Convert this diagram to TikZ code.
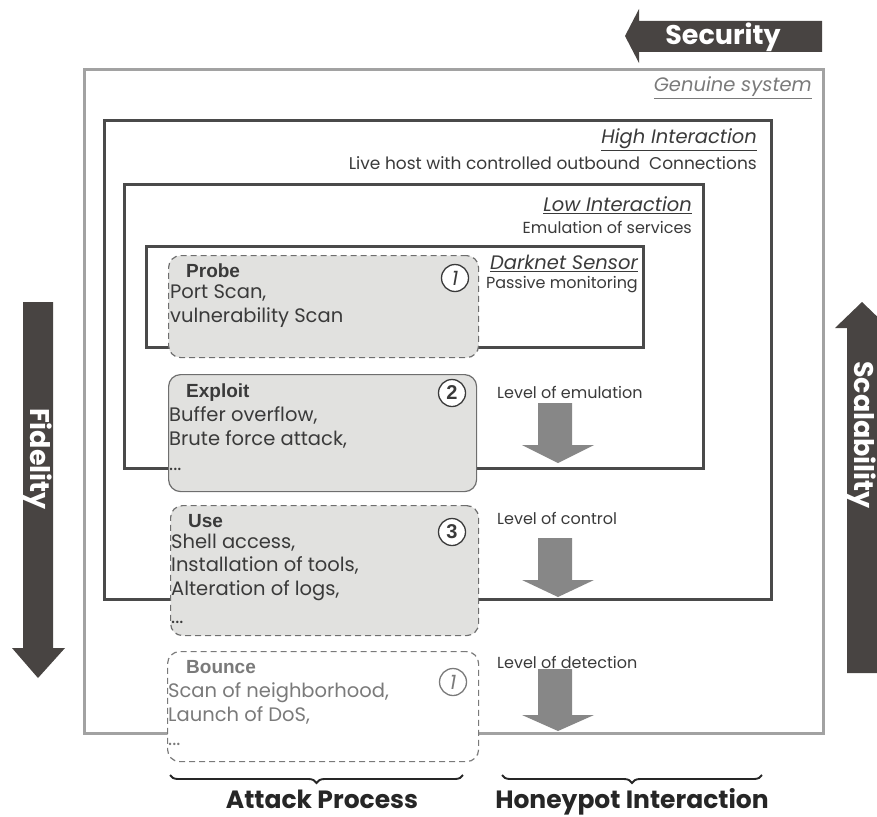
\documentclass[tikz,border=0pt]{standalone}
\usepackage{fontspec}
\setmainfont{Poppins}
\newfontfamily\lsans{Liberation Sans}
\usetikzlibrary{decorations.pathreplacing}
\definecolor{darkarrow}{HTML}{484442}
\definecolor{boxfill}{HTML}{E1E1DF}
\definecolor{midarrow}{HTML}{878787}
\definecolor{outergray}{HTML}{A2A2A2}
\definecolor{frame}{HTML}{4A4A4A}
\definecolor{txt}{HTML}{3A3A3A}
\definecolor{gtxt}{HTML}{7A7A7A}
\tikzset{
  levelbox/.style={draw=frame, line width=3pt, inner sep=0pt, anchor=north west},
  attackbox/.style={fill=boxfill, draw=frame!80, line width=1.2pt, rounded corners=12pt, inner sep=0pt, anchor=north west},
  dashbox/.style={attackbox, dash pattern=on 6pt off 4pt},
  title/.style={font=\lsans\bfseries\fontsize{19}{22}\selectfont, text=txt, anchor=base west, inner sep=0pt},
  body/.style={font=\fontsize{19.5}{23.6}\selectfont, text=txt, anchor=base west, align=left, inner sep=0pt},
  num/.style={circle, draw=txt, fill=white, line width=1.3pt, minimum size=27pt, inner sep=0pt, text=txt, font=\fontsize{20}{22}\selectfont},
  lvl/.style={font=\fontsize{16}{19}\selectfont, text=txt, anchor=west, inner sep=0pt},
  rtitle/.style={font=\itshape\fontsize{19.5}{22}\selectfont, text=txt, anchor=east, inner sep=0pt},
  rsub/.style={font=\fontsize{16}{19}\selectfont, text=txt, anchor=east, inner sep=0pt},
  bigtxt/.style={font=\bfseries\fontsize{27}{30}\selectfont, text=white, inner sep=0pt},
  grayarrow/.style={fill=midarrow},
  brace/.style={decorate, decoration={brace, amplitude=8pt, mirror}, line width=1.9pt, draw=black!85},
  bottomtxt/.style={font=\bfseries\fontsize{25}{28}\selectfont, text=black!85, inner sep=0pt, anchor=base}
}
\begin{document}
\begin{tikzpicture}[x=1pt,y=-1pt]
\useasboundingbox (0,0) rectangle (877,816);

% Security arrow
\fill[darkarrow] (822,21) -- (639,21) -- (639,9) -- (625,36) -- (639,63) -- (639,52) -- (822,52) -- cycle;
\node[bigtxt] (sec) at (723,37) {Security};

% Fidelity arrow
\fill[darkarrow] (23,302) -- (53,302) -- (53,648) -- (65,648) -- (38,678) -- (12,648) -- (23,648) -- cycle;
\node[bigtxt, rotate=-90] (fid) at (38,459) {Fidelity};

% Scalability arrow
\fill[darkarrow] (847,673) -- (847,328) -- (835,328) -- (862,302) -- (889,328) -- (877,328) -- (877,673) -- cycle;
\node[bigtxt, rotate=-90] (sca) at (862,435) {Scalability};

% Level boxes
\node[draw=outergray, line width=3pt, inner sep=0pt, anchor=north west, minimum width=739pt, minimum height=664pt] (genuine) at (83,68) {};
\node[levelbox, minimum width=667pt, minimum height=479pt] (high) at (103,119) {};
\node[levelbox, minimum width=579pt, minimum height=284pt] (low) at (123,183) {};
\node[levelbox, minimum width=497pt, minimum height=101pt] (dark) at (145,245) {};

\node[rtitle, text=gtxt] (tgen) at (812,88) {\underline{Genuine system}};
\node[rtitle] (thigh) at (757,140) {\underline{High Interaction}};
\node[rsub, font=\fontsize{17}{19}\selectfont] (shigh) at (757,163) {Live host with controlled outbound\ \ Connections};
\node[rtitle] (tlow) at (692,205) {\underline{Low Interaction}};
\node[rsub] (slow) at (692,227) {Emulation of services};
\node[rtitle] (tdark) at (638,263) {\underline{Darknet Sensor}};
\node[rsub] (sdark) at (638,285) {Passive monitoring};

% Attack boxes
\node[dashbox, minimum width=310pt, minimum height=102pt] (probe) at (168,255) {};
\node[attackbox, minimum width=308pt, minimum height=117pt] (exploit) at (168,374) {};
\node[dashbox, minimum width=308pt, minimum height=130pt] (use) at (170,505) {};
\node[dashbox, fill=white, draw=gtxt, minimum width=311pt, minimum height=110pt] (bounce) at (167,651) {};

\node[title] (tprobe) at (186,277) {Probe};
\node[body] (bprobe) at (170,322) {Port Scan,\\vulnerability Scan};
\node[num] (n1) at (455,278) {\itshape 1};

\node[title] (texploit) at (186,397) {Exploit};
\node[body] (bexploit) at (169,470) {Buffer overflow,\\Brute force attack,\\[1pt]...};
\node[num] (n2) at (452,393) {\lsans\bfseries 2};

\node[title] (tuse) at (188,527) {Use};
\node[body] (buse) at (171,623) {Shell access,\\Installation of tools,\\Alteration of logs,\\[4pt]...};
\node[num] (n3) at (452,532) {\lsans\bfseries 3};

\node[title, text=gtxt] (tbounce) at (186,673) {Bounce};
\node[body, text=gtxt] (bbounce) at (168,745) {Scan of neighborhood,\\Launch of DoS,\\...};
\node[num, draw=gtxt, text=gtxt] (n4) at (453,682) {\itshape 1};

% Level arrows
\node[lvl] (lemu) at (497,392) {Level of emulation};
\fill[grayarrow] (538,403) -- (572,403) -- (572,445) -- (594,445) -- (558,463) -- (522,445) -- (538,445) -- cycle;
\node[lvl] (lcon) at (497,518) {Level of control};
\fill[grayarrow] (538,538) -- (572,538) -- (572,580) -- (594,580) -- (558,597) -- (522,580) -- (538,580) -- cycle;
\node[lvl] (ldet) at (497,662) {Level of detection};
\fill[grayarrow] (538,669) -- (572,669) -- (572,715) -- (594,715) -- (558,731) -- (522,715) -- (538,715) -- cycle;

% Braces
\coordinate (ab1) at (170,775);
\coordinate (ab2) at (463,775);
\coordinate (hb1) at (502,775);
\coordinate (hb2) at (762,775);
\draw[brace] (ab1) -- (ab2);
\draw[brace] (hb1) -- (hb2);
\node[bottomtxt] (attack) at (322,808) {Attack Process};
\node[bottomtxt] (honey) at (632,808) {Honeypot Interaction};
\end{tikzpicture}
\end{document}
